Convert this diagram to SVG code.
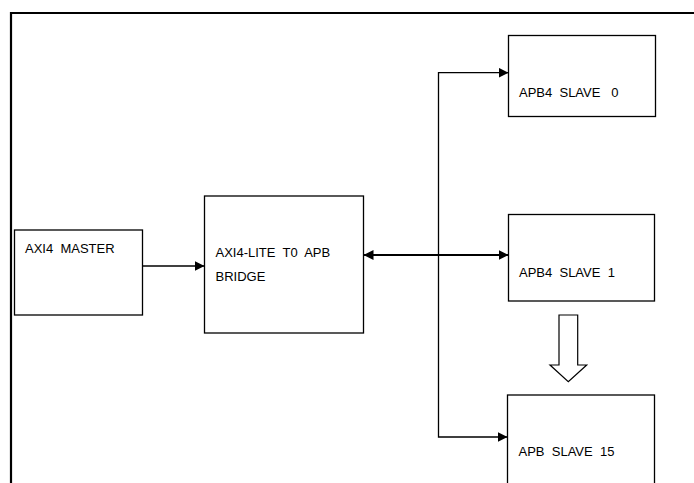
<svg xmlns="http://www.w3.org/2000/svg" width="694" height="483" viewBox="0 0 694 483">
<style>
.box{fill:#fff;stroke:#000;stroke-width:1.3}
.lbl{font-family:"Liberation Sans",Arial,sans-serif;font-size:13px;fill:#000;white-space:pre}
.ln{fill:none;stroke:#000;stroke-width:1.3}
.thick{fill:none;stroke:#000;stroke-width:2.2}
</style>
<defs>
<marker id="ah" viewBox="0 0 10 10" refX="10" refY="5" markerWidth="10" markerHeight="10" markerUnits="userSpaceOnUse" orient="auto-start-reverse">
<path d="M0,0 L10,5 L0,10 z" fill="#000"/>
</marker>
</defs>
<rect width="694" height="483" fill="#fff"/>
<g id="frame">
<path d="M11,483 V13 H694" fill="none" stroke="#000" stroke-width="2.2"/>
</g>
<g id="axi4-master">
<rect class="box" x="14.5" y="230" width="128" height="85"/>
<text class="lbl" x="25" y="253" xml:space="preserve">AXI4  MASTER</text>
</g>
<g id="bridge">
<rect class="box" x="204.5" y="196" width="159" height="137"/>
<text class="lbl" x="215.5" y="257" xml:space="preserve">AXI4-LITE  T0  APB</text>
<text class="lbl" x="215.5" y="281">BRIDGE</text>
</g>
<g id="slave0">
<rect class="box" x="508.5" y="35.5" width="147" height="81"/>
<text class="lbl" x="519" y="97" xml:space="preserve">APB4  SLAVE   0</text>
</g>
<g id="slave1">
<rect class="box" x="508.5" y="214.5" width="146" height="86.5"/>
<text class="lbl" x="519" y="277" xml:space="preserve">APB4  SLAVE  1</text>
</g>
<g id="slave15">
<rect class="box" x="507.5" y="395" width="147" height="100"/>
<text class="lbl" x="518.5" y="456" xml:space="preserve">APB  SLAVE  15</text>
</g>
<g id="connectors">
<line class="ln" x1="142.5" y1="266" x2="204.5" y2="266" marker-end="url(#ah)"/>
<line class="thick" x1="363.5" y1="255" x2="508.5" y2="255" marker-start="url(#ah)" marker-end="url(#ah)"/>
<path class="ln" d="M508.5,72.7 H438.5 V437 H507.5" marker-start="url(#ah)" marker-end="url(#ah)"/>
<path d="M559,315 H577.7 V365 H586.7 L568.3,381.7 L550,365 H559 Z" fill="#fff" stroke="#000" stroke-width="1.2"/>
</g>
</svg>
